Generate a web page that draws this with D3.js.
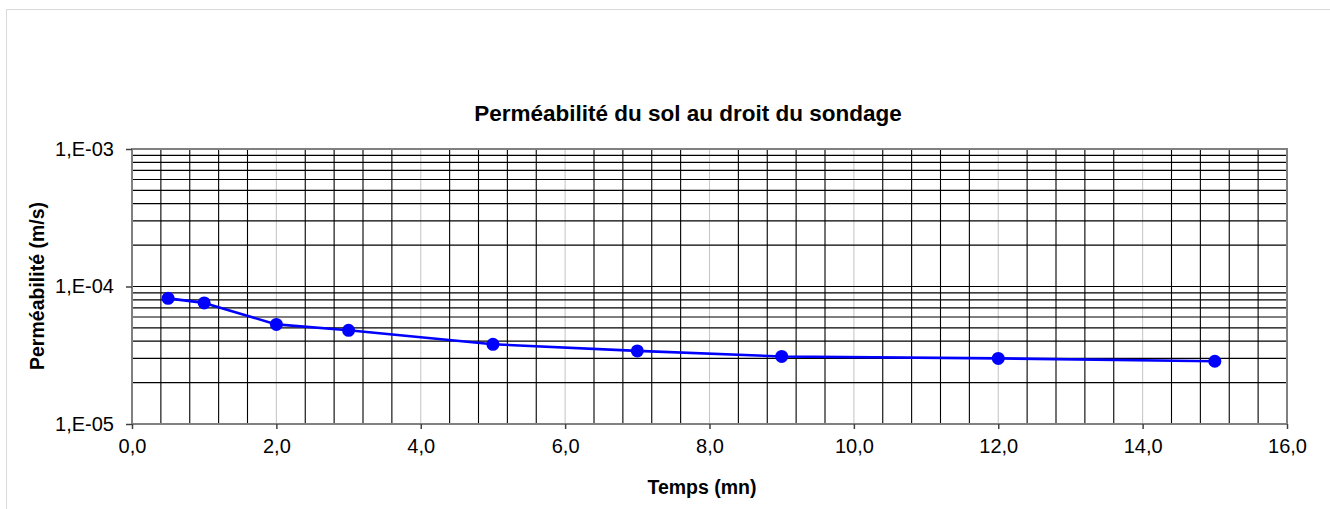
<!DOCTYPE html>
<html>
<head>
<meta charset="utf-8">
<script src="https://cdn.jsdelivr.net/npm/d3@7"></script>
<style>
  html, body { margin: 0; padding: 0; background: #fff; }
  svg { display: block; }
  text { font-family: Arial, "Liberation Sans", sans-serif; fill: #000; }
</style>
</head>
<body>
<svg id="chart" width="1330" height="509"></svg>
<script>
// Falling-head test: permeability measured over time
const times = [0.5, 1, 2, 3, 5, 7, 9, 12, 15];            // minutes
const permeability = [8.2e-5, 7.6e-5, 5.3e-5, 4.8e-5, 3.8e-5, 3.4e-5, 3.1e-5, 3.0e-5, 2.86e-5]; // m/s
const xTickValues = [0, 2, 4, 6, 8, 10, 12, 14, 16];
const yTickValues = [1e-5, 1e-4, 1e-3];
const yTickLabels = ["1,E-05", "1,E-04", "1,E-03"];
const titleText = "Perméabilité du sol au droit du sondage";
const xTitleText = "Temps (mn)";
const yTitleText = "Perméabilité (m/s)";

const svg = d3.select("#chart");
const plot = { left: 132, right: 1287, top: 149, bottom: 424 };

const x = d3.scaleLinear().domain([0, 16]).range([plot.left, plot.right]);
const y = d3.scaleLog().domain([1e-5, 1e-3]).range([plot.bottom, plot.top]);

// outer chart area frame
svg.append("path")
  .attr("d", "M6.5,520 V9.5 H1340")
  .attr("fill", "none").attr("stroke", "#d9d9d9").attr("stroke-width", 1);

// plot background
svg.append("rect")
  .attr("x", plot.left).attr("y", plot.top)
  .attr("width", plot.right - plot.left).attr("height", plot.bottom - plot.top)
  .attr("fill", "#fff");

// minor vertical grid every 0.4 min
const xMinor = d3.range(1, 40).map(i => i * 0.4).filter(v => Math.abs(v / 2 - Math.round(v / 2)) > 1e-6);
svg.append("g").selectAll("line").data(xMinor).join("line")
  .attr("x1", d => x(d)).attr("x2", d => x(d))
  .attr("y1", plot.top).attr("y2", plot.bottom)
  .attr("stroke", "#000").attr("stroke-width", 1.1);

// major vertical grid every 2 min
svg.append("g").selectAll("line").data(xTickValues.slice(1, -1)).join("line")
  .attr("x1", d => x(d)).attr("x2", d => x(d))
  .attr("y1", plot.top).attr("y2", plot.bottom)
  .attr("stroke", "#c8c8c8").attr("stroke-width", 1.1);

// horizontal log grid (2..9 within each decade, plus inner decade lines)
const yMinor = [];
[-5, -4].forEach(e => {
  for (let m = 1; m <= 9; m++) {
    const v = m * Math.pow(10, e);
    if (v > 1e-5 && v < 1e-3) yMinor.push(v);
  }
});
svg.append("g").selectAll("line").data(yMinor).join("line")
  .attr("x1", plot.left).attr("x2", plot.right)
  .attr("y1", d => y(d)).attr("y2", d => y(d))
  .attr("stroke", "#000").attr("stroke-width", 1.2);

// plot frame
svg.append("rect")
  .attr("x", plot.left).attr("y", plot.top)
  .attr("width", plot.right - plot.left).attr("height", plot.bottom - plot.top)
  .attr("fill", "none").attr("stroke", "#808080").attr("stroke-width", 2);

// y axis (left, decades)
const yAxis = d3.axisLeft(y)
  .tickValues(yTickValues)
  .tickFormat((d, i) => yTickLabels[i])
  .tickSize(6).tickPadding(12);
const gy = svg.append("g").attr("transform", `translate(${plot.left},0)`).call(yAxis);
gy.select(".domain").remove();
gy.selectAll(".tick line").attr("stroke", "#404040").attr("stroke-width", 1.5);
gy.selectAll(".tick text")
  .style("font-family", "Arial, 'Liberation Sans', sans-serif")
  .style("font-size", "20px").attr("fill", "#000");

// x axis (bottom)
const commaFmt = d3.formatLocale({ decimal: ",", thousands: " ", grouping: [3], currency: ["", " €"] }).format(".1f");
const xAxis = d3.axisBottom(x)
  .tickValues(xTickValues)
  .tickFormat(commaFmt)
  .tickSize(5).tickPadding(10);
const gx = svg.append("g").attr("transform", `translate(0,${plot.bottom})`).call(xAxis);
gx.select(".domain").remove();
gx.selectAll(".tick line").attr("stroke", "#404040").attr("stroke-width", 1.5);
gx.selectAll(".tick text")
  .style("font-family", "Arial, 'Liberation Sans', sans-serif")
  .style("font-size", "20px").attr("fill", "#000");

// data series
const pts = times.map((t, i) => [t, permeability[i]]);
svg.append("path")
  .datum(pts)
  .attr("fill", "none").attr("stroke", "#0000ff").attr("stroke-width", 2.6)
  .attr("stroke-linejoin", "round")
  .attr("d", d3.line().x(d => x(d[0])).y(d => y(d[1])));
svg.append("g").selectAll("circle").data(pts).join("circle")
  .attr("cx", d => x(d[0])).attr("cy", d => y(d[1]))
  .attr("r", 6.5).attr("fill", "#0000ff");

// titles
svg.append("text")
  .attr("x", 688).attr("y", 121)
  .attr("text-anchor", "middle")
  .style("font-size", "22.5px").style("font-weight", "bold")
  .text(titleText);

svg.append("text")
  .attr("x", 702).attr("y", 494)
  .attr("text-anchor", "middle")
  .style("font-size", "19.5px").style("font-weight", "bold")
  .text(xTitleText);

svg.append("text")
  .attr("transform", "translate(44,286) rotate(-90)")
  .attr("text-anchor", "middle")
  .style("font-size", "19.5px").style("font-weight", "bold")
  .text(yTitleText);
</script>
</body>
</html>
